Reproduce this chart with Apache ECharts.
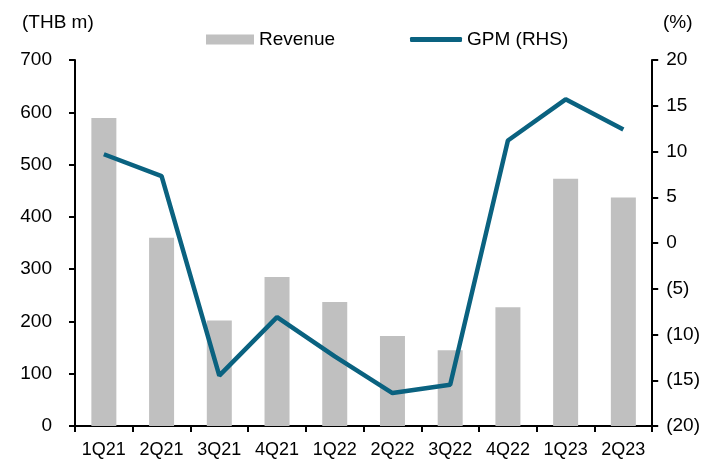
<!DOCTYPE html>
<html><head><meta charset="utf-8">
<script src="https://cdn.jsdelivr.net/npm/echarts@6/dist/echarts.min.js"></script>
<style>html,body{margin:0;padding:0;background:#fff}#c{width:703px;height:471px}</style>
</head><body><div id="c"></div>
<script>
const categories = ['1Q21','2Q21','3Q21','4Q21','1Q22','2Q22','3Q22','4Q22','1Q23','2Q23'];
const revenue = [589, 360, 202, 285, 237, 172, 145, 227, 473, 437];
const gpm = [9.7, 7.3, -14.5, -8.1, -12.4, -16.4, -15.5, 11.2, 15.7, 12.4];
const leftTicks = {min: 0, max: 700, interval: 100};
const rightTicks = {min: -20, max: 20, interval: 5};

const font = 'Liberation Sans, Arial, sans-serif';
const lineColor = '#0a6280';
const chart = echarts.init(document.getElementById('c'));
chart.setOption({
  animation: false,
  textStyle: {fontFamily: font},
  grid: {left: 75, right: 48, top: 60, bottom: 45},
  legend: [
    {top: 30, left: 206, padding: 0, itemWidth: 48, itemHeight: 10, itemGap: 5,
     textStyle: {fontSize: 19, color: '#000', fontFamily: font},
     data: [{name: 'Revenue', icon: 'rect'}]},
    {top: 30, left: 410, padding: 0, itemWidth: 52, itemHeight: 5, itemGap: 5,
     textStyle: {fontSize: 19, color: '#000', fontFamily: font},
     data: [{name: 'GPM (RHS)', icon: 'roundRect', itemStyle: {color: lineColor}}]}
  ],
  graphic: [
    {type: 'text', left: 22, top: 13, style: {text: '(THB m)', font: '19px ' + font, fill: '#000'}},
    {type: 'text', left: 663, top: 13, style: {text: '(%)', font: '19px ' + font, fill: '#000'}}
  ],
  xAxis: {
    type: 'category', data: categories,
    axisLine: {lineStyle: {color: '#000', width: 2}},
    axisTick: {show: true, length: 6, lineStyle: {color: '#000', width: 2}},
    axisLabel: {fontSize: 18, color: '#000', margin: 15, fontFamily: font}
  },
  yAxis: [
    {type: 'value', min: leftTicks.min, max: leftTicks.max, interval: leftTicks.interval,
     splitLine: {show: false},
     axisLine: {show: true, lineStyle: {color: '#000', width: 2}},
     axisTick: {show: true, length: 6, lineStyle: {color: '#000', width: 2}},
     axisLabel: {fontSize: 19, color: '#000', margin: 23, fontFamily: font}},
    {type: 'value', min: rightTicks.min, max: rightTicks.max, interval: rightTicks.interval, position: 'right',
     splitLine: {show: false},
     axisLine: {show: true, lineStyle: {color: '#000', width: 2}},
     axisTick: {show: true, length: 6, lineStyle: {color: '#000', width: 2}},
     axisLabel: {fontSize: 19, color: '#000', margin: 14, fontFamily: font,
       formatter: v => v < 0 ? '(' + Math.abs(v) + ')' : String(v)}}
  ],
  series: [
    {name: 'Revenue', type: 'bar', data: revenue, barWidth: 25, itemStyle: {color: '#c0c0c0'}},
    {name: 'GPM (RHS)', type: 'line', yAxisIndex: 1, data: gpm, symbol: 'none',
     lineStyle: {color: lineColor, width: 4.5}, itemStyle: {color: lineColor}}
  ]
});
</script></body></html>
